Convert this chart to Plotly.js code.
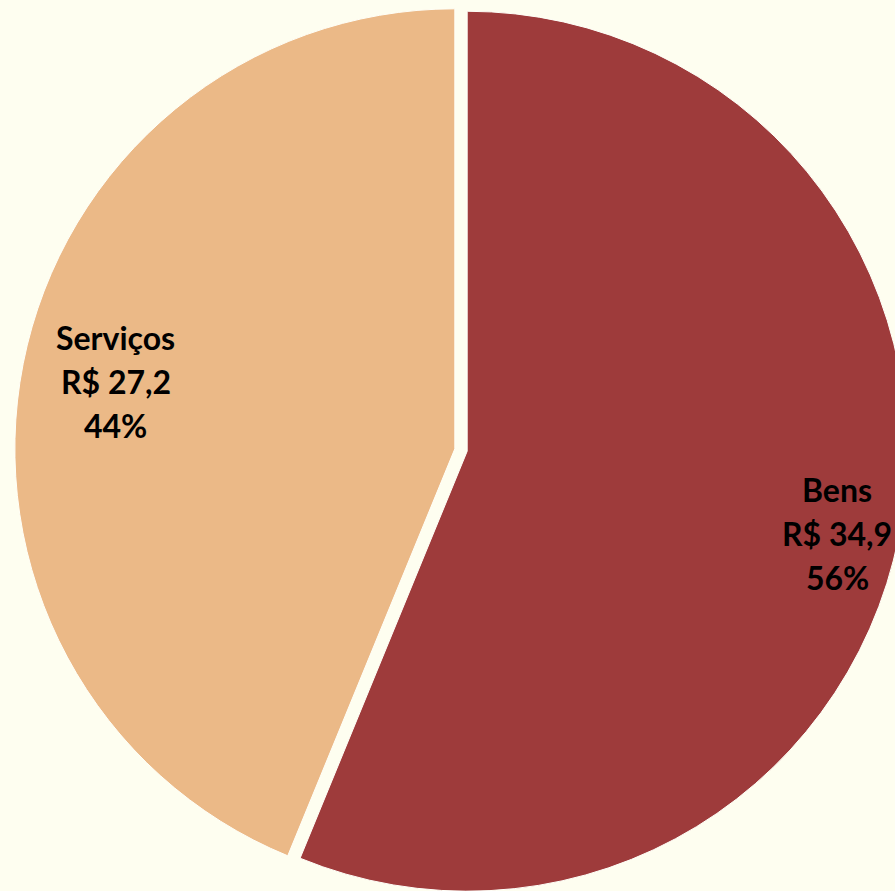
<!DOCTYPE html>
<html>
<head>
<meta charset="utf-8">
<script src="https://cdn.plot.ly/plotly-3.0.1.min.js"></script>
<style>
html,body{margin:0;padding:0;background:#FEFEF0;overflow:hidden;width:895px;height:891px;}
#chart{width:910px;height:900px;}
</style>
</head>
<body>
<div id="chart"></div>
<script>
const categories = ["Bens", "Serviços"];
const values = [34.9, 27.2];
const colors = ["#9E3B3B", "#EBB987"];

// style settings (not data)
const W = 910, H = 900;
const domX = [0.0162, 0.997], domY = [0.0041, 0.9959];
const pullFrac = 0.0143;
const labelRadius = [0.862, 0.785];
const labelAngleShift = [0.025, 0]; // radians, clockwise
const lineGap = 44;
const fontSpec = {family: "Lato, 'Open Sans', sans-serif", size: 32, color: "#000000", weight: "bold"};

const trace = {
  type: "pie",
  labels: categories,
  values: values,
  sort: false,
  direction: "clockwise",
  rotation: 0,
  pull: categories.map(() => pullFrac),
  marker: {colors: colors, line: {color: "#FFFFF8", width: 1}},
  textinfo: "none",
  hoverinfo: "none",
  showlegend: false,
  domain: {x: domX, y: domY}
};

// compute label positions from the data, following the pie geometry
const total = values.reduce((a, b) => a + b, 0);
const dw = (domX[1] - domX[0]) * W, dh = (domY[1] - domY[0]) * H;
const cx = (domX[0] + domX[1]) / 2 * W;
const cy = (1 - (domY[0] + domY[1]) / 2) * H;
const r = Math.min(dw, dh) / 2 / (1 + pullFrac);
const fmt = v => v.toFixed(1).replace(".", ",");
const annotations = [];
let cum = 0;
values.forEach((v, i) => {
  const mid = (cum + v / 2) / total * 2 * Math.PI; // clockwise from top
  cum += v;
  const ox = Math.sin(mid) * r * pullFrac, oy = -Math.cos(mid) * r * pullFrac;
  const a = mid + labelAngleShift[i];
  const rr = r * labelRadius[i];
  const px = cx + ox + Math.sin(a) * rr;
  const py = cy + oy - Math.cos(a) * rr; // pixel from top
  const lines = [categories[i], "R$ " + fmt(v), Math.round(v / total * 100) + "%"];
  lines.forEach((t, k) => {
    annotations.push({
      xref: "paper", yref: "paper",
      x: px / W, y: 1 - (py + (k - 1) * lineGap) / H,
      text: t, showarrow: false,
      xanchor: "center", yanchor: "middle",
      font: fontSpec
    });
  });
});

const layout = {
  width: W,
  height: H,
  margin: {l: 0, r: 0, t: 0, b: 0, pad: 0},
  paper_bgcolor: "#FEFEF0",
  plot_bgcolor: "#FEFEF0",
  separators: ",.",
  showlegend: false,
  annotations: annotations
};

Plotly.newPlot("chart", [trace], layout, {displayModeBar: false, staticPlot: true});
</script>
</body>
</html>
